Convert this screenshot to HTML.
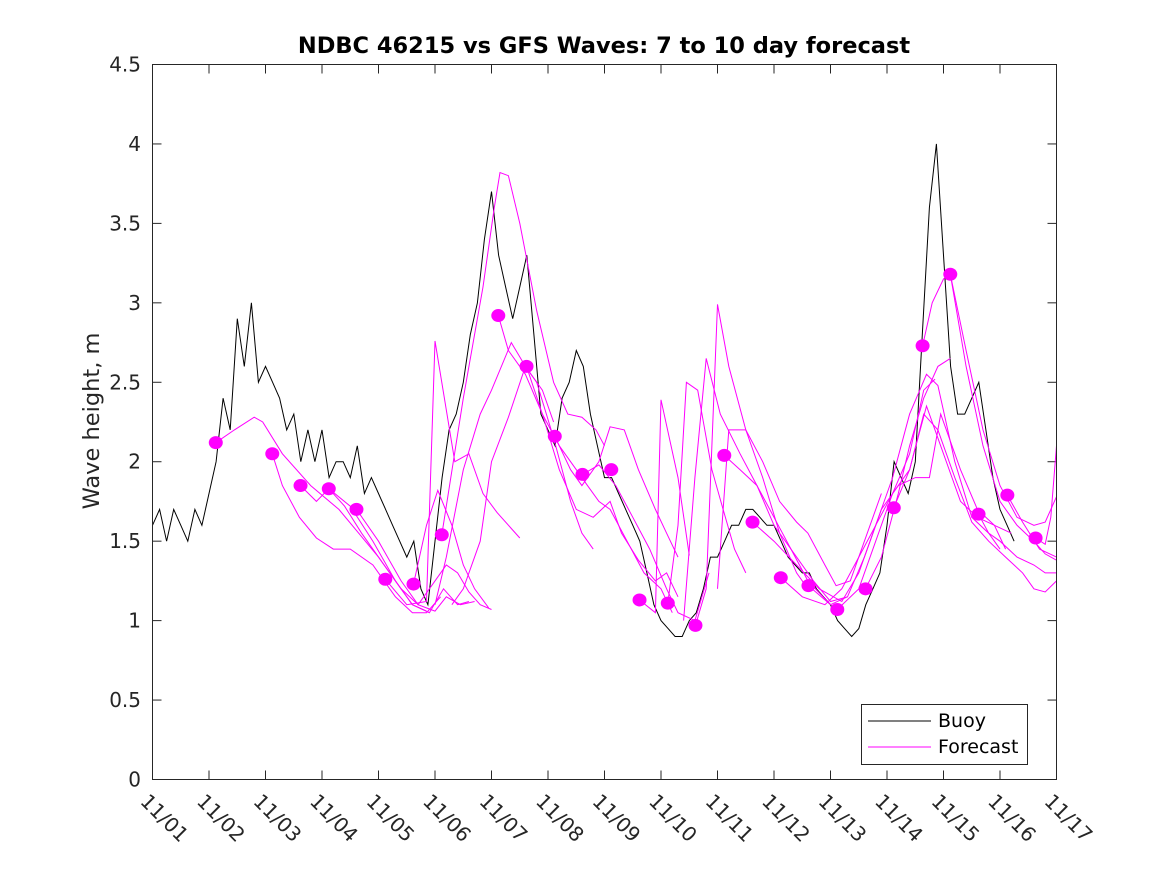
<!DOCTYPE html>
<html><head><meta charset="utf-8">
<style>
html,body{margin:0;padding:0;background:#fff;}
svg{display:block;font-family:"DejaVu Sans","Liberation Sans",sans-serif;}
</style></head>
<body>
<svg id="chart" width="1167" height="875" viewBox="0 0 1167 875">
<rect x="0" y="0" width="1167" height="875" fill="#fff"/>
<text x="604" y="53" text-anchor="middle" font-size="22.5" font-weight="bold" fill="#000">NDBC 46215 vs GFS Waves: 7 to 10 day forecast</text>
<text transform="translate(99,421) rotate(-90)" text-anchor="middle" font-size="22.5" fill="#262626">Wave height, m</text>
<rect x="152.5" y="64.5" width="904" height="715" fill="#fff" stroke="none"/>
<g id="ticks"></g>
<g id="series"></g>
<rect x="152.5" y="64.5" width="904" height="715" fill="none" stroke="#262626" stroke-width="1"/>
<g>
<rect x="861.5" y="704.5" width="166" height="60" fill="#fff" stroke="#262626" stroke-width="1"/>
<line x1="868" y1="721" x2="931" y2="721" stroke="#000" stroke-width="1"/>
<text x="938" y="727" font-size="19" fill="#000">Buoy</text>
<line x1="868" y1="747" x2="931" y2="747" stroke="#ff00ff" stroke-width="1"/>
<text x="938" y="753" font-size="19" fill="#000">Forecast</text>
</g>
</svg>
<script>
const xTickLabels = ["11/01","11/02","11/03","11/04","11/05","11/06","11/07","11/08","11/09","11/10","11/11","11/12","11/13","11/14","11/15","11/16","11/17"];
const yTickValues = [0,0.5,1,1.5,2,2.5,3,3.5,4,4.5];
const yTickLabels = ["0","0.5","1","1.5","2","2.5","3","3.5","4","4.5"];
const buoyStartDay = 0;
const buoyStepDays = 0.125;
const buoyHs = [
1.6,1.7,1.5,1.7,1.6,1.5,1.7,1.6,
1.8,2.0,2.4,2.2,2.9,2.6,3.0,2.5,
2.6,2.5,2.4,2.2,2.3,2.0,2.2,2.0,
2.2,1.9,2.0,2.0,1.9,2.1,1.8,1.9,
1.8,1.7,1.6,1.5,1.4,1.5,1.2,1.1,
1.5,1.9,2.2,2.3,2.5,2.8,3.0,3.4,
3.7,3.3,3.1,2.9,3.1,3.3,2.8,2.3,
2.2,2.1,2.4,2.5,2.7,2.6,2.3,2.1,
1.9,1.9,1.8,1.7,1.6,1.5,1.3,1.1,
1.0,0.95,0.9,0.9,1.0,1.05,1.2,1.4,
1.4,1.5,1.6,1.6,1.7,1.7,1.65,1.6,
1.6,1.5,1.4,1.35,1.3,1.3,1.2,1.15,
1.1,1.0,0.95,0.9,0.95,1.1,1.2,1.3,
1.6,2.0,1.9,1.8,2.0,2.8,3.6,4.0,
3.3,2.6,2.3,2.3,2.4,2.5,2.2,1.9,
1.7,1.6,1.5];
const dotDays = [1.12,2.12,2.62,3.12,3.61,4.12,4.62,5.12,6.12,6.62,7.12,7.61,8.12,8.62,9.12,9.61,10.12,10.62,11.12,11.61,12.12,12.62,13.12,13.63,14.12,14.62,15.13,15.63];
const dotHs = [2.12,2.05,1.85,1.83,1.70,1.26,1.23,1.54,2.92,2.60,2.16,1.92,1.95,1.13,1.11,0.97,2.04,1.62,1.27,1.22,1.07,1.20,1.71,2.73,3.18,1.67,1.79,1.52];
const forecasts = [
[[1.12,2.12],[1.45,2.2],[1.8,2.28],[1.95,2.25],[2.3,2.05],[2.8,1.85],[3.3,1.7],[3.65,1.55],[4.0,1.4],[4.3,1.25],[4.6,1.1],[4.85,1.06]],
[[2.12,2.05],[2.3,1.85],[2.6,1.65],[2.9,1.52],[3.2,1.45],[3.5,1.45],[3.9,1.35],[4.3,1.15],[4.6,1.05],[4.85,1.05],[5.1,1.15]],
[[2.62,1.85],[2.9,1.75],[3.12,1.83],[3.4,1.72],[3.7,1.55],[4.1,1.35],[4.4,1.2],[4.7,1.1],[5.0,1.25],[5.2,1.35],[5.4,1.3],[5.6,1.18],[5.8,1.1],[6.0,1.07]],
[[3.12,1.83],[3.5,1.72],[3.9,1.5],[4.3,1.25],[4.6,1.1],[4.9,1.05],[5.15,1.2],[5.4,1.1],[5.6,1.12]],
[[3.61,1.7],[4.0,1.5],[4.4,1.25],[4.7,1.1],[5.0,1.06],[5.2,1.15],[5.45,1.1],[5.7,1.12]],
[[4.12,1.26],[4.5,1.1],[4.85,1.12],[5.0,2.76],[5.35,2.0],[5.6,2.05],[5.85,1.8],[6.1,1.68],[6.35,1.58],[6.5,1.52]],
[[4.62,1.23],[4.85,1.6],[5.05,1.82],[5.3,1.6],[5.5,1.35],[5.7,1.2],[5.95,1.08]],
[[5.0,1.1],[5.2,1.4],[5.5,1.95],[5.8,2.3],[6.0,2.45],[6.35,2.75],[6.6,2.6],[6.9,2.45],[7.1,2.25]],
[[5.3,1.1],[5.5,1.2],[5.8,1.5],[6.0,2.0],[6.3,2.28],[6.6,2.6],[6.8,2.5],[7.1,2.15],[7.4,1.75],[7.6,1.55],[7.8,1.45]],
[[5.12,1.54],[5.5,2.4],[5.85,3.1],[6.05,3.6],[6.15,3.82],[6.3,3.8],[6.5,3.5],[6.8,2.95],[7.1,2.5],[7.35,2.3],[7.6,2.28],[7.85,2.2],[8.0,2.1]],
[[6.12,2.92],[6.3,2.7],[6.6,2.55],[6.9,2.3],[7.2,2.1],[7.5,1.95],[7.7,1.85],[7.9,1.75],[8.1,1.7],[8.4,1.5],[8.7,1.3],[9.0,1.2],[9.2,1.05]],
[[6.62,2.6],[6.9,2.3],[7.2,1.95],[7.5,1.7],[7.8,1.65],[8.1,1.75],[8.3,1.55],[8.6,1.38],[8.9,1.25],[9.1,1.3],[9.3,1.15]],
[[7.12,2.16],[7.4,1.95],[7.6,1.85],[7.9,2.0],[8.1,2.22],[8.35,2.2],[8.6,1.95],[8.9,1.7],[9.1,1.55],[9.3,1.4]],
[[7.61,1.92],[7.9,1.98],[8.2,1.85],[8.5,1.65],[8.8,1.45],[9.1,1.2],[9.3,1.05],[9.6,1.0],[9.85,1.3]],
[[8.62,1.13],[8.9,1.05],[9.0,2.39],[9.3,1.9],[9.5,1.41]],
[[9.12,1.11],[9.3,1.6],[9.45,2.5],[9.65,2.45],[9.9,1.95],[10.1,1.7],[10.3,1.45],[10.5,1.3]],
[[9.61,0.97],[9.8,1.2],[10.0,2.99],[10.2,2.6],[10.5,2.2],[10.8,1.9],[11.1,1.55],[11.4,1.3],[11.6,1.2]],
[[9.4,1.0],[9.6,1.9],[9.8,2.65],[10.05,2.3],[10.4,2.05],[10.7,1.85],[11.0,1.65],[11.3,1.45],[11.6,1.25],[12.0,1.1]],
[[10.12,2.04],[10.4,1.95],[10.7,1.85],[11.0,1.6],[11.4,1.4],[11.7,1.25],[12.0,1.12],[12.3,1.15]],
[[10.0,1.2],[10.2,2.2],[10.5,2.2],[10.8,2.0],[11.1,1.75],[11.4,1.62],[11.6,1.55],[11.9,1.35],[12.1,1.22],[12.35,1.25],[12.6,1.5],[12.9,1.8]],
[[10.62,1.62],[11.0,1.5],[11.4,1.35],[11.8,1.2],[12.2,1.12],[12.5,1.3],[12.8,1.6],[13.1,1.8],[13.4,2.05],[13.65,2.45],[13.85,2.52]],
[[11.12,1.27],[11.5,1.15],[11.9,1.1],[12.2,1.2],[12.5,1.4],[12.8,1.6],[13.1,1.9],[13.4,2.3],[13.7,2.55],[13.9,2.48],[14.2,2.0],[14.5,1.65],[14.8,1.55],[15.0,1.45]],
[[11.61,1.22],[12.0,1.1],[12.3,1.15],[12.6,1.4],[12.9,1.7],[13.2,1.85],[13.5,1.9],[13.75,1.9],[13.95,2.3],[14.3,1.95],[14.6,1.7],[14.9,1.6],[15.1,1.45]],
[[12.12,1.07],[12.5,1.2],[12.8,1.5],[13.1,1.8],[13.4,1.95],[13.7,2.35],[14.0,2.05],[14.3,1.75],[14.6,1.65],[14.9,1.6],[15.2,1.55]],
[[12.62,1.2],[12.9,1.4],[13.2,1.8],[13.4,2.1],[13.65,2.4],[13.9,2.6],[14.12,2.65]],
[[13.12,1.71],[13.4,1.95],[13.65,2.3],[13.9,2.2],[14.2,1.9],[14.5,1.62],[14.8,1.5],[15.1,1.4],[15.4,1.3],[15.6,1.2],[15.8,1.18],[16.0,1.25]],
[[13.63,2.73],[13.8,3.0],[14.0,3.15],[14.12,3.18],[14.4,2.6],[14.7,2.1],[15.0,1.75],[15.3,1.6],[15.6,1.5],[15.8,1.42],[16.0,1.38]],
[[14.12,3.18],[14.4,2.7],[14.7,2.2],[15.0,1.85],[15.3,1.65],[15.6,1.6],[15.8,1.62],[16.0,1.78]],
[[14.62,1.67],[14.8,1.55],[15.0,1.5],[15.3,1.4],[15.6,1.35],[15.8,1.3],[16.0,1.3]],
[[15.63,1.52],[15.8,1.48],[15.9,1.65],[16.0,2.1]],
[[15.13,1.79],[15.4,1.62],[15.7,1.45],[16.0,1.4]]
];

const NS = "http://www.w3.org/2000/svg";
const X0 = 152.5, X1 = 1056.5, Y0 = 779.5, Y1 = 64.5;
function xScale(d){ return X0 + (d/16)*(X1-X0); }
function yScale(v){ return Y0 - (v/4.5)*(Y0-Y1); }

const ticks = document.getElementById('ticks');
const series = document.getElementById('series');
xTickLabels.forEach((lab,i)=>{
  const x = xScale(i);
  [[Y0, Y0-9],[Y1, Y1+9]].forEach(p=>{
    const t = document.createElementNS(NS,'line');
    t.setAttribute('x1',x); t.setAttribute('x2',x); t.setAttribute('y1',p[0]); t.setAttribute('y2',p[1]);
    t.setAttribute('stroke','#262626');
    
    
    ticks.appendChild(t);
  });
  const tx = document.createElementNS(NS,'text');
  tx.setAttribute('transform','translate('+(x+11)+',819) rotate(45)');
  tx.setAttribute('text-anchor','middle');
  tx.setAttribute('dominant-baseline','middle');
  tx.setAttribute('font-size','20');
  tx.setAttribute('fill','#262626');
  tx.textContent = lab;
  
  
  ticks.appendChild(tx);
});
yTickValues.forEach((v,i)=>{
  const y = yScale(v);
  [[X0, X0+9],[X1, X1-9]].forEach(p=>{
    const t = document.createElementNS(NS,'line');
    t.setAttribute('x1',p[0]); t.setAttribute('x2',p[1]); t.setAttribute('y1',y); t.setAttribute('y2',y);
    t.setAttribute('stroke','#262626');
    
    
    ticks.appendChild(t);
  });
  const tx = document.createElementNS(NS,'text');
  tx.setAttribute('x',141); tx.setAttribute('y',y+7);
  tx.setAttribute('text-anchor','end');
  tx.setAttribute('font-size','20');
  tx.setAttribute('fill','#262626');
  tx.textContent = yTickLabels[i];
  
  
  ticks.appendChild(tx);
});

// buoy
let bd = '';
buoyHs.forEach((v,i)=>{
  const x = xScale(buoyStartDay + i*buoyStepDays), y = yScale(v);
  bd += (i? 'L':'M') + x.toFixed(1) + ',' + y.toFixed(1);
});
const bp = document.createElementNS(NS,'path');
bp.setAttribute('d',bd); bp.setAttribute('fill','none'); bp.setAttribute('stroke','#000'); bp.setAttribute('stroke-width','1');


series.appendChild(bp);

// forecasts
forecasts.forEach(f=>{
  let d='';
  f.forEach((p,i)=>{ d += (i?'L':'M') + xScale(p[0]).toFixed(1) + ',' + yScale(p[1]).toFixed(1); });
  const fp = document.createElementNS(NS,'path');
  fp.setAttribute('d',d); fp.setAttribute('fill','none'); fp.setAttribute('stroke','#ff00ff'); fp.setAttribute('stroke-width','1');
  
  
  series.appendChild(fp);
});

// dots
dotDays.forEach((d,i)=>{
  const c = document.createElementNS(NS,'ellipse');
  c.setAttribute('cx',xScale(d)); c.setAttribute('cy',yScale(dotHs[i]));
  c.setAttribute('rx',7); c.setAttribute('ry',6.5);
  c.setAttribute('fill','#ff00ff');
  
  
  series.appendChild(c);
});
</script>
</body></html>
